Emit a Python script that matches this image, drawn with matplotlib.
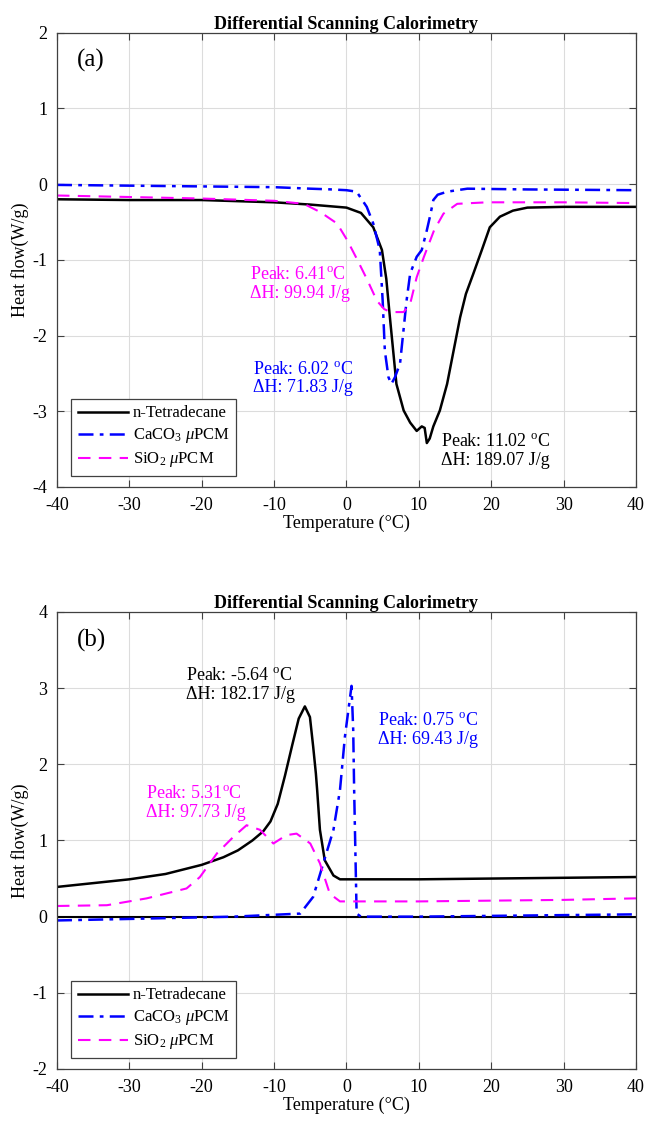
import matplotlib.pyplot as plt

plt.rcParams["font.family"] = ["Liberation Serif", "DejaVu Serif"]
plt.rcParams["mathtext.fontset"] = "custom"
plt.rcParams["mathtext.rm"] = "Liberation Serif"
plt.rcParams["mathtext.it"] = "Liberation Serif:italic"
plt.rcParams["axes.unicode_minus"] = False

# (a) cooling scan
t_tet_a = [-40, -30, -20, -10, -5, 0, 2, 3.7, 4.9, 5.5, 6.0, 6.9, 7.9, 8.8, 9.7,
           10.4, 10.8, 11.1, 11.5, 12.0, 12.9, 13.9, 14.8, 15.7, 16.5, 17.5,
           18.7, 19.8, 21.2, 23, 25, 30, 40]
hf_tet_a = [-0.20, -0.21, -0.21, -0.24, -0.27, -0.31, -0.38, -0.57, -0.87, -1.25,
            -1.76, -2.64, -2.99, -3.15, -3.26, -3.20, -3.22, -3.42, -3.36, -3.20,
            -2.99, -2.64, -2.20, -1.76, -1.45, -1.19, -0.87, -0.57, -0.43, -0.35,
            -0.31, -0.30, -0.30]

t_caco3_a = [-40, -30, -20, -10, -5, -2, 0, 1.4, 2.8, 3.7, 4.6, 5.0, 5.3, 5.8,
             6.2, 6.7, 7.4, 8.3, 8.8, 9.7, 10.4, 11.1, 11.6, 12.0, 12.6, 13.9,
             16.7, 25, 40]
hf_caco3_a = [-0.01, -0.02, -0.03, -0.04, -0.06, -0.07, -0.08, -0.10, -0.30, -0.52,
              -0.87, -1.54, -2.20, -2.55, -2.64, -2.55, -2.37, -1.54, -1.18, -0.96,
              -0.87, -0.61, -0.40, -0.21, -0.14, -0.10, -0.06, -0.07, -0.08]

t_sio2_a = [-40, -30, -20, -10, -5.9, -3.6, -1.3, 0.1, 1.5, 2.9, 4.2, 5.2, 6.1, 7.9,
            8.8, 9.7, 10.7, 12.1, 13.4, 15.3, 19.4, 30, 40]
hf_sio2_a = [-0.15, -0.17, -0.19, -0.22, -0.26, -0.37, -0.52, -0.74, -1.00, -1.27,
             -1.54, -1.65, -1.69, -1.69, -1.58, -1.23, -0.96, -0.61, -0.39, -0.26,
             -0.24, -0.24, -0.25]

# (b) heating scan
t_tet_b = [-40, -35, -30, -25, -20, -17, -15, -13, -11.5, -10.5, -9.5, -8.5, -7.5,
           -6.6, -5.75, -5.05, -4.6, -4.23, -4.05, -3.67, -3.0, -1.8, -0.9,
           10, 20, 30, 40]
hf_tet_b = [0.39, 0.44, 0.49, 0.56, 0.68, 0.78, 0.87, 1.00, 1.12, 1.25, 1.48, 1.85,
            2.25, 2.60, 2.76, 2.62, 2.23, 1.88, 1.66, 1.14, 0.74, 0.54, 0.49, 0.49,
            0.50, 0.51, 0.52]

t_caco3_b = [-40, -30, -15.6, -6.4, -4.6, -3.2, -1.8, -0.9, -0.22, 0.7, 0.93, 1.06,
             1.4, 2.0, 10, 20, 30, 40]
hf_caco3_b = [-0.05, -0.03, 0.0, 0.04, 0.26, 0.70, 1.14, 1.66, 2.36, 3.03, 2.45,
              1.66, 0.04, 0.0, 0.0, 0.01, 0.02, 0.03]

t_sio2_b = [-40, -33.1, -27.6, -22.1, -20.25, -17.9, -15.6, -13.8, -11.96, -10.1,
            -8.3, -6.9, -5.0, -3.67, -2.3, -0.9, 10, 20, 30, 40]
hf_sio2_b = [0.14, 0.15, 0.24, 0.37, 0.52, 0.83, 1.05, 1.20, 1.14, 0.96, 1.07, 1.09,
             0.96, 0.70, 0.30, 0.20, 0.20, 0.21, 0.22, 0.24]

labels = ["n-Tetradecane", r"CaCO$_3$ $\mu$PCM", r"SiO$_2$ $\mu$PCM"]
x_ticks = list(range(-40, 41, 10))

fig = plt.figure(figsize=(6.46, 11.21), dpi=100)
ax_a = fig.add_axes([0.0882, 0.5656, 0.8963, 0.4052])
ax_b = fig.add_axes([0.0882, 0.0464, 0.8963, 0.4077])

spine_col = "#404040"


def style_axes(ax, ylim):
    ax.set_xlim(-40, 40)
    ax.set_ylim(*ylim)
    ax.set_xticks(x_ticks)
    ax.set_yticks(range(ylim[0], ylim[1] + 1))
    ax.grid(True, color="#dcdcdc", linewidth=0.8)
    ax.set_axisbelow(True)
    ax.tick_params(direction="in", top=True, right=True, labelsize=13,
                   length=5, color=spine_col)
    ax.tick_params(axis="x", pad=7)
    ax.tick_params(axis="y", pad=7)
    for s in ax.spines.values():
        s.set_color(spine_col)
        s.set_linewidth(0.9)
    ax.set_xlabel("Temperature (\u00b0C)", fontsize=13, labelpad=1)
    ax.set_ylabel("Heat flow(W/g)", fontsize=13, labelpad=2)
    ax.set_title("Differential Scanning Calorimetry", fontsize=13,
                 fontweight="bold", pad=3)


def draw_curves(ax, tet, caco3, sio2):
    ax.plot(*tet, color="black", lw=1.8, label=labels[0])
    ax.plot(*caco3, color="blue", lw=1.8, linestyle=(0, (6, 2.5, 1.5, 2.5)),
            label=labels[1])
    ax.plot(*sio2, color="magenta", lw=1.5, linestyle=(0, (6, 4)),
            label=labels[2])
    leg = ax.legend(loc="lower left", bbox_to_anchor=(0.024, 0.024), fontsize=12,
                    fancybox=False, framealpha=1, edgecolor=spine_col,
                    handlelength=3.0, handletextpad=0.3, borderpad=0.4,
                    labelspacing=0.3, borderaxespad=0)
    leg.get_frame().set_linewidth(0.9)


# panel (a)
draw_curves(ax_a, (t_tet_a, hf_tet_a), (t_caco3_a, hf_caco3_a),
            (t_sio2_a, hf_sio2_a))
style_axes(ax_a, (-4, 2))
ax_a.text(-35.4, 1.64, "(a)", fontsize=18, ha="center", va="center")
ax_a.text(-13.3, -1.32, "Peak: 6.41$^{\\mathrm{o}}$C\n\u0394H: 99.94 J/g",
          color="magenta", fontsize=13, va="center", linespacing=1.15)
ax_a.text(-12.9, -2.57, "Peak: 6.02 $^{\\mathrm{o}}$C\n\u0394H: 71.83 J/g",
          color="blue", fontsize=13, va="center", linespacing=1.1)
ax_a.text(13.1, -3.53, "Peak: 11.02 $^{\\mathrm{o}}$C\n\u0394H: 189.07 J/g",
          color="black", fontsize=13, va="center", linespacing=1.15)

# panel (b)
ax_b.axhline(0, color="black", lw=1.5)
draw_curves(ax_b, (t_tet_b, hf_tet_b), (t_caco3_b, hf_caco3_b),
            (t_sio2_b, hf_sio2_b))
style_axes(ax_b, (-2, 4))
ax_b.text(-35.2, 3.63, "(b)", fontsize=18, ha="center", va="center")
ax_b.text(-22.2, 3.04, "Peak: -5.64 $^{\\mathrm{o}}$C\n\u0394H: 182.17 J/g",
          color="black", fontsize=13, va="center", linespacing=1.2)
ax_b.text(4.4, 2.45, "Peak: 0.75 $^{\\mathrm{o}}$C\n\u0394H: 69.43 J/g",
          color="blue", fontsize=13, va="center", linespacing=1.1)
ax_b.text(-27.7, 1.49, "Peak: 5.31$^{\\mathrm{o}}$C\n\u0394H: 97.73 J/g",
          color="magenta", fontsize=13, va="center", linespacing=1.1)

fig.savefig("out.png", dpi=100)
